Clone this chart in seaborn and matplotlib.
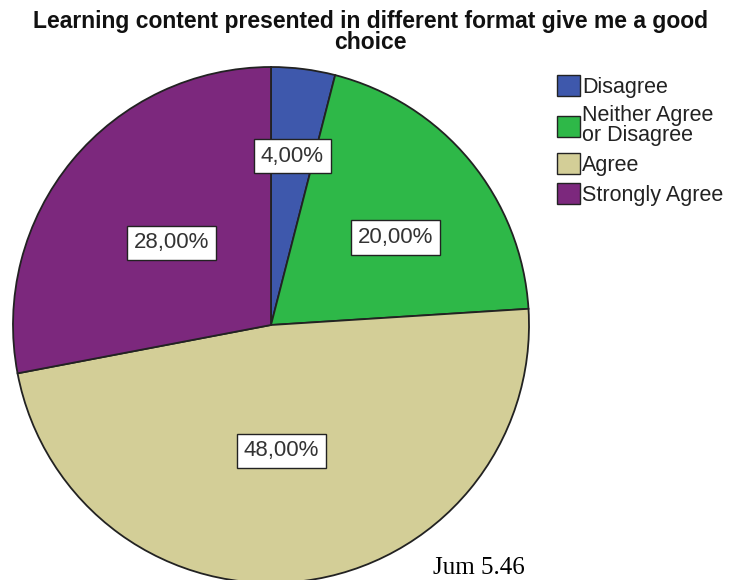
import matplotlib
matplotlib.use("Agg")
import matplotlib.pyplot as plt
import seaborn as sns
import numpy as np
from matplotlib.patches import Patch

categories = ["Disagree", "Neither Agree\nor Disagree", "Agree", "Strongly Agree"]
values = [4.0, 20.0, 48.0, 28.0]
pct_labels = ["4,00%", "20,00%", "48,00%", "28,00%"]
colors = ["#3E58AC", "#2EB848", "#D3CE97", "#7C287D"]
title = "Learning content presented in different format give me a good\nchoice"
caption = "Jum 5.46"

sns.set_theme(style="white")
plt.rcParams['font.family'] = ['Liberation Sans', 'DejaVu Sans']

W, H = 741, 580
fig = plt.figure(figsize=(W / 100, H / 100), dpi=100)

cx, cy, r = 271, 325, 258
ax = fig.add_axes([(cx - r) / W, (H - cy - r) / H, 2 * r / W, 2 * r / H])
palette = sns.color_palette(colors)
wedges, _ = ax.pie(values, colors=palette, startangle=90, counterclock=False,
                   wedgeprops=dict(edgecolor="#222222", linewidth=1.3))
ax.set_xlim(-1, 1)
ax.set_ylim(-1, 1)
ax.set_aspect("equal")
ax.axis("off")

# label placement (radial fraction, angular nudge in degrees)
label_dist = [0.66, 0.59, 0.49, 0.50]
label_nudge = [0.0, -4.5, -2.5, 0.0]
for w, lab, d, nd in zip(wedges, pct_labels, label_dist, label_nudge):
    ang = np.deg2rad((w.theta1 + w.theta2) / 2 + nd)
    ax.text(d * np.cos(ang), d * np.sin(ang), lab, ha="center", va="center",
            fontsize=16, color="#333333",
            bbox=dict(boxstyle="square,pad=0.3", facecolor="white",
                      edgecolor="#222222", linewidth=1.0))

fig.text(0.5, 1 - 10 / H, title, ha="center", va="top", fontsize=16.5,
         fontweight="bold", linespacing=0.88, color="#111111")

handles = [Patch(facecolor=c, edgecolor="#222222", linewidth=1.0) for c in palette]
leg = fig.legend(handles, categories, loc="upper left",
                 bbox_to_anchor=(542 / W, 1 - 60 / H), frameon=False,
                 fontsize=15.5, handlelength=1.05, handleheight=1.15,
                 handletextpad=0.12, labelspacing=0.32, borderpad=0.2)
for t in leg.get_texts():
    t.set_linespacing(0.95)
    t.set_color("#222222")

fig.text(433 / W, 1 / H, caption, ha="left", va="bottom", fontsize=18,
         family="Liberation Serif", color="black")

fig.savefig("out.png", dpi=100)
